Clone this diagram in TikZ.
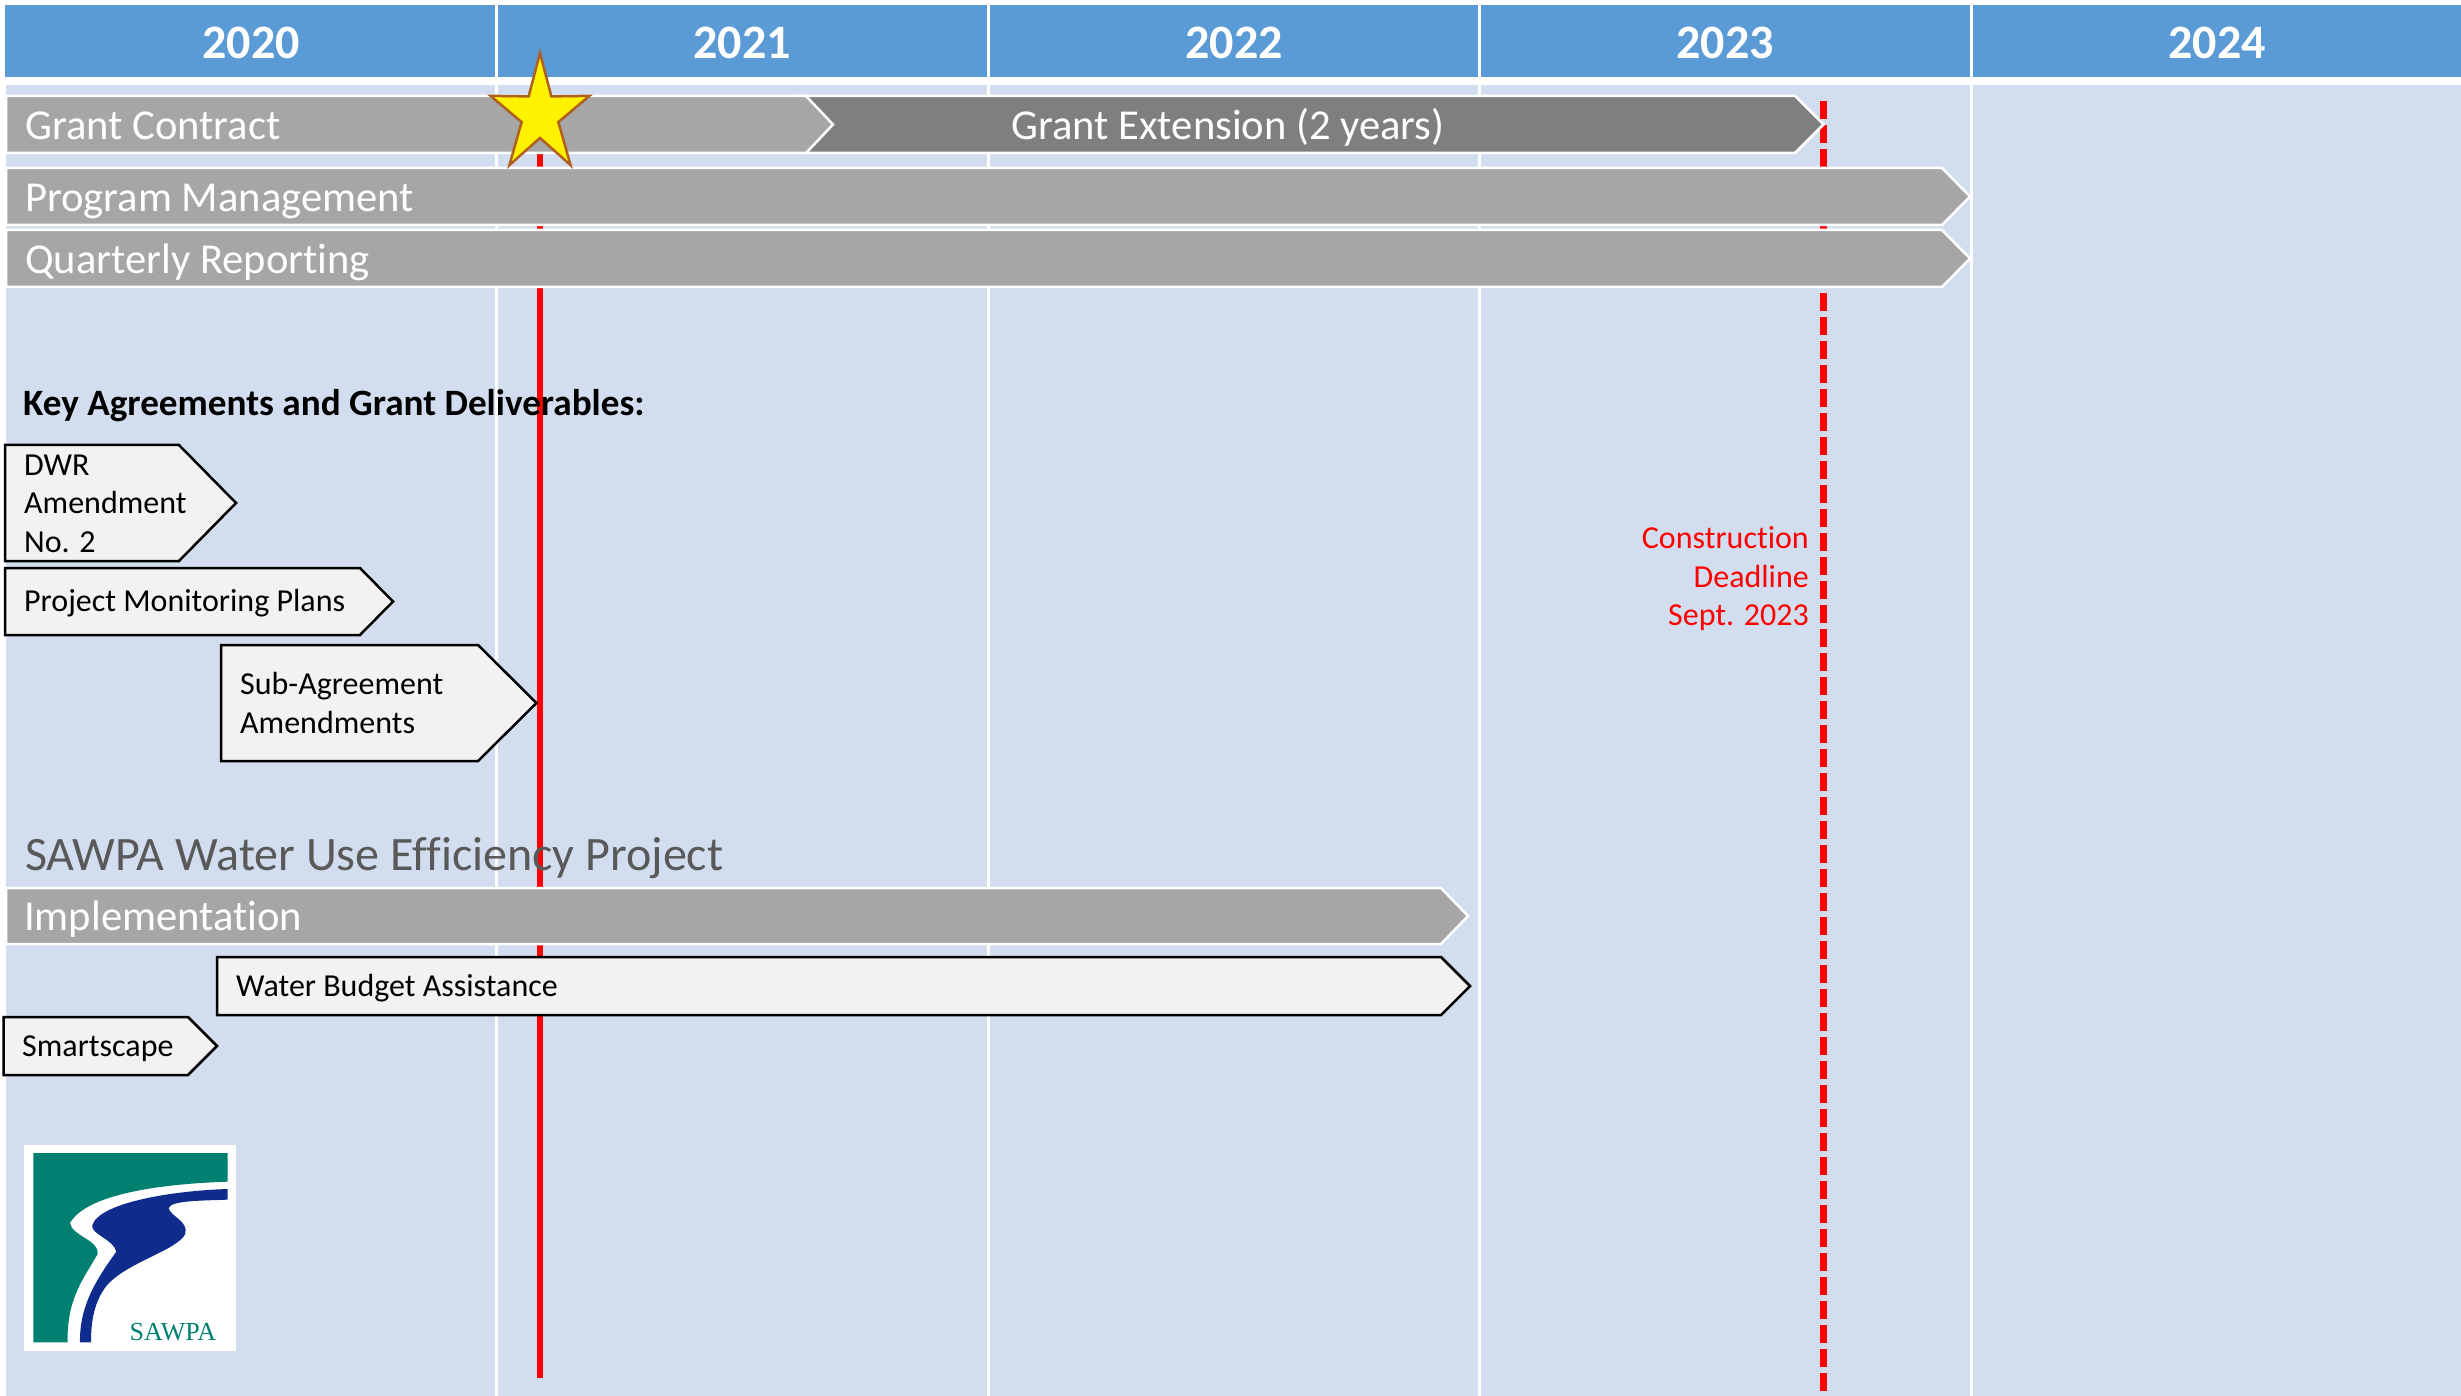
\documentclass[tikz,border=0pt]{standalone}
\usepackage{xcolor}
\usepackage{fontspec}
\setmainfont[Ligatures=NoCommon]{Carlito}
\newfontfamily\logofont{Liberation Serif}
\usetikzlibrary{shapes.geometric}
\definecolor{headblue}{HTML}{5B9BD5}
\definecolor{bodyblue}{HTML}{D2DEEF}
\definecolor{bargray}{HTML}{A6A6A6}
\definecolor{extgray}{HTML}{7F7F7F}
\definecolor{boxgray}{HTML}{F2F2F2}
\definecolor{titlegray}{HTML}{595959}
\definecolor{logogreen}{HTML}{008070}
\definecolor{logoblue}{HTML}{0F2C8C}
\definecolor{stargold}{HTML}{B0601E}
% home plate: left, top, head start, tip, bottom
\newcommand{\plate}[6][bar]{%
  \draw[#1] (#2,#3) -- (#4,#3) -- (#5,{(#3+#6)/2}) -- (#4,#6) -- (#2,#6) -- cycle;}
\begin{document}
\begin{tikzpicture}[x=1pt,y=-1pt]
    \tikzstyle{bar}=[fill=bargray,draw=white,line width=2.5pt,line join=miter]
    \tikzstyle{extbar}=[fill=extgray,draw=white,line width=2.5pt]
    \tikzstyle{box}=[fill=boxgray,draw=black,line width=2.5pt]
    \tikzstyle{yearlabel}=[white,font=\fontsize{48}{52}\selectfont\bfseries,anchor=base,inner sep=0pt]
    \tikzstyle{barlabel}=[white,font=\fontsize{42.6}{50}\selectfont,anchor=base west,inner sep=0pt]
    \tikzstyle{boxlabel}=[black,font=\fontsize{32}{38.5}\selectfont,anchor=west,align=left,inner sep=0pt]
    \useasboundingbox (0,0) rectangle (2461,1396);
    \fill[white] (0,0) rectangle (2461,1396);
    \fill[bodyblue] (6,85) rectangle (2461,1396);
    \fill[headblue] (5,5) rectangle (2461,77);
    \foreach \sx in {496,988,1479,1971} {
      \draw[white,line width=3pt] (\sx,5) -- (\sx,77);
      \draw[white,line width=3pt] (\sx,85) -- (\sx,1396);
    }
    \node[yearlabel] (y2020) at (251,59) {2020};
    \node[yearlabel] (y2021) at (742,59) {2021};
    \node[yearlabel] (y2022) at (1234,59) {2022};
    \node[yearlabel] (y2023) at (1725,59) {2023};
    \node[yearlabel] (y2024) at (2217,59) {2024};

    \coordinate (now top) at (540,100);
    \coordinate (now end) at (540,1378);
    \coordinate (due top) at (1823.5,101);
    \coordinate (due end) at (1823.5,1392);
    \draw[red,line width=6pt] (now top) -- (now end);
    \draw[red,line width=6.5pt,dash pattern=on 18pt off 6pt] (due top) -- (due end);

    \plate[extbar]{800}{96}{1795}{1823.5}{153}
    \plate{6}{96}{806}{833}{153}
    \plate{6}{168}{1942}{1970}{225}
    \plate{6}{230}{1942}{1970}{287}
    \node[barlabel] (contract) at (25,140) {Grant Contract};
    \node[barlabel,anchor=base] (extension) at (1228,140) {Grant Extension (2 years)};
    \node[barlabel] (management) at (25,212) {Program Management};
    \node[barlabel] (reporting) at (25,274) {Quarterly Reporting};
    \node[star,star points=5,star point ratio=2.7,minimum size=124pt,inner sep=0pt,
      xscale=0.84,fill=yellow,draw=stargold,line width=2.5pt] (award) at (540,115) {};

    \node[black,font=\fontsize{37.2}{44}\selectfont\bfseries,anchor=base west,inner sep=0pt] (keys) at (23,416)
      {Key Agreements and Grant Deliverables:};
    \plate[box]{5}{445}{179}{236}{561}
    \node[boxlabel] (dwr) at (24,503.5) {DWR\\Amendment\\No. 2};
    \plate[box]{5}{568}{360}{393}{635}
    \node[boxlabel] (plans) at (24,603) {Project Monitoring Plans};
    \plate[box]{221}{645}{478}{536.5}{761}
    \node[boxlabel] (subs) at (240,703) {Sub-Agreement\\Amendments};
    \node[red,font=\fontsize{32}{38.5}\selectfont,anchor=east,align=right,inner sep=0pt] (deadline) at (1809,579)
      {Construction\\Deadline\\Sept. 2023};

    \node[titlegray,font=\fontsize{48}{54}\selectfont,anchor=base west,inner sep=0pt] (project) at (25,870)
      {SAWPA Water Use Efficiency Project};
    \plate{6}{888}{1441}{1468}{944}
    \node[barlabel] (implementation) at (24,930) {Implementation};
    \plate[box]{217}{957}{1441}{1470}{1015}
    \node[boxlabel] (budget) at (236,988) {Water Budget Assistance};
    \plate[box]{3.5}{1017}{188}{217}{1075}
    \node[boxlabel] (smartscape) at (22,1049) {Smartscape};

    % logo
    \fill[white] (24,1145) rectangle (236,1351);
    \begin{scope}[shift={(0,1119)},x=0.3333pt,y=-0.3333pt]
      \fill[logogreen] (100,102) -- (683,102) -- (683,188)
        .. controls (480,195) and (260,225) .. (210,312)
        .. controls (215,350) and (300,365) .. (293,405)
        .. controls (250,480) and (200,540) .. (203,670)
        -- (100,670) -- cycle;
      \fill[logoblue] (683,210) -- (683,242)
        .. controls (600,245) and (510,245) .. (506,268)
        .. controls (515,295) and (565,305) .. (556,345)
        .. controls (530,395) and (380,430) .. (320,500)
        .. controls (285,545) and (273,600) .. (273,670)
        -- (240,670)
        .. controls (238,560) and (290,480) .. (349,398)
        .. controls (340,360) and (270,345) .. (277,318)
        .. controls (300,250) and (520,215) .. (683,210) -- cycle;
    \end{scope}
    \node[logogreen,font=\logofont\fontsize{26}{30}\selectfont,anchor=base west,inner sep=0pt] (sawpa) at (129.5,1340) {SAWPA};
\end{tikzpicture}
\end{document}
